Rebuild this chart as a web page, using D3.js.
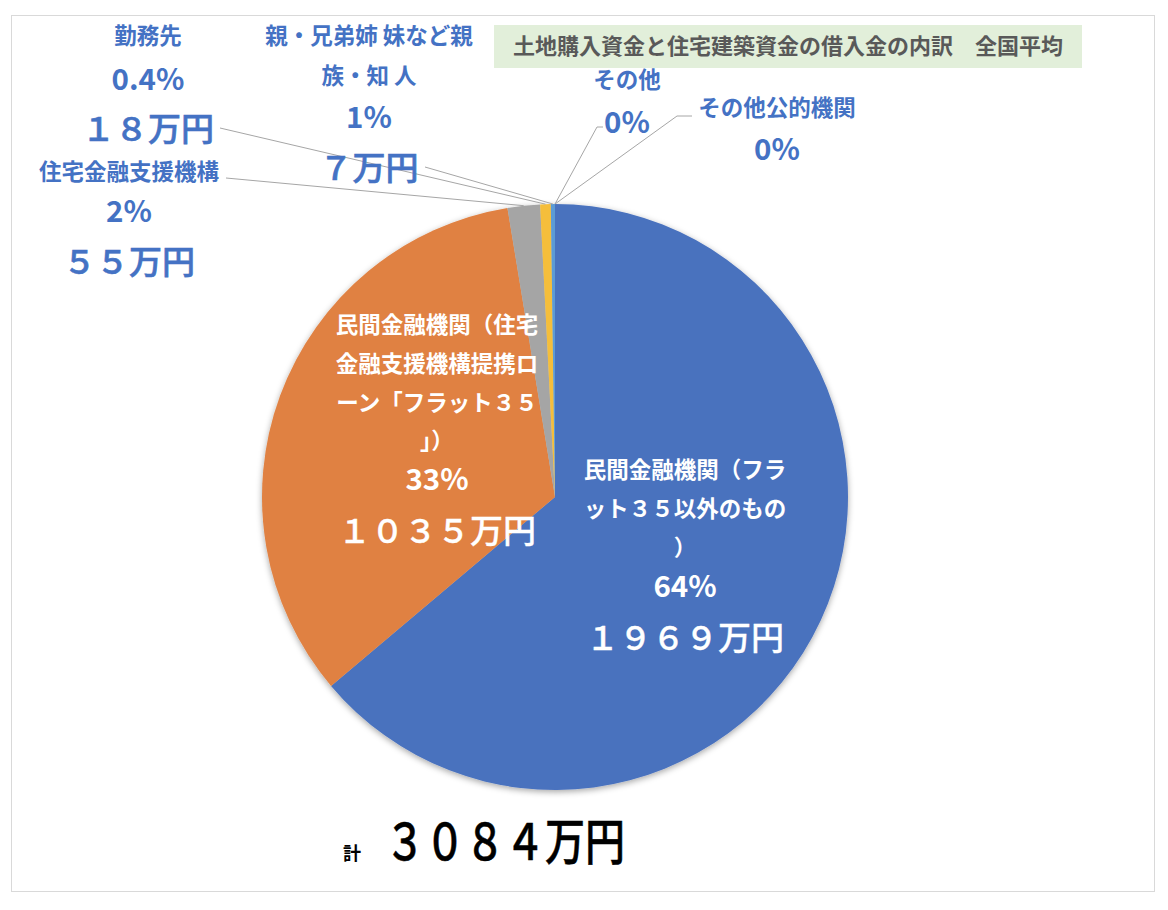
<!DOCTYPE html>
<html><head><meta charset="utf-8">
<script src="https://cdn.jsdelivr.net/npm/d3@7"></script>
<style>
html,body{margin:0;padding:0;background:#fff;}
svg{display:block;font-family:"Noto Sans CJK JP","Noto Sans",sans-serif;}
</style></head>
<body><svg id="c" width="1168" height="910"></svg>
<script>
// ---- data ----
const categories = [
  "民間金融機関（フラット３５以外のもの）",
  "民間金融機関（住宅金融支援機構提携ローン「フラット３５」）",
  "住宅金融支援機構",
  "勤務先",
  "親・兄弟姉妹など親族・知人",
  "その他公的機関",
  "その他"
];
const values = [1969, 1035, 55, 18, 7, 0, 0];
const nameLines = [
  ["民間金融機関（フラ", "ット３５以外のもの", "）"],
  ["民間金融機関（住宅", "金融支援機構提携ロ", "ーン「フラット３５", "」）"],
  ["住宅金融支援機構"],
  ["勤務先"],
  ["親・兄弟姉 妹など親", "族・知 人"],
  ["その他公的機関"],
  ["その他"]
];
const percentLabels = ["64%", "33%", "2%", "0.4%", "1%", "0%", "0%"];
const amountLabels = ["１９６９万円", "１０３５万円", "５５万円", "１８万円", "７万円", "", ""];
const titleText = "土地購入資金と住宅建築資金の借入金の内訳　全国平均";
const totalLabel = "計";
const totalAmount = "３０８４万円";

// ---- style / layout ----
const colors = ["#4A72BE", "#E08142", "#A5A5A5", "#F5BE3A", "#5B9BD5", "#70AD47", "#264478"];
const blueText = "#4472C4";
const cx = 555, cy = 497, R = 293;
const layout = [
  {x: 685, names: [478, 517, 556], pct: 597, amt: 650, inside: true},
  {x: 437, names: [333, 372, 411, 449], pct: 490, amt: 543, inside: true},
  {x: 129, names: [180], pct: 222, amt: 274, leader: [[226, 178]]},
  {x: 148, names: [44], pct: 90, amt: 141, leader: [[220, 128]]},
  {x: 369, names: [44, 84], pct: 128, amt: 180, leader: [[425, 167]]},
  {x: 777, names: [116], pct: 160, amt: null, leader: [[677, 116], [692, 116]]},
  {x: 627, names: [88], pct: 133, amt: null, leader: [[597, 127], [603, 127]]}
];

const svg = d3.select("#c");

svg.append("rect").attr("x", 11.5).attr("y", 15.5).attr("width", 1143).attr("height", 876)
  .attr("fill", "#fff").attr("stroke", "#D9D9D9").attr("stroke-width", 1);

const defs = svg.append("defs");
const f = defs.append("filter").attr("id", "sh").attr("x", "-10%").attr("y", "-10%").attr("width", "120%").attr("height", "120%");
f.append("feDropShadow").attr("dx", 0).attr("dy", 2).attr("stdDeviation", 3)
  .attr("flood-color", "#000").attr("flood-opacity", 0.35);

const tg = svg.append("g");
tg.append("rect").attr("x", 494).attr("y", 25).attr("width", 588).attr("height", 43).attr("fill", "#E2EFDA");
tg.append("text").attr("x", 788).attr("y", 54).attr("text-anchor", "middle")
  .attr("font-size", 22).attr("font-weight", "bold").attr("fill", "#595959").text(titleText);

const pie = d3.pie().sort(null).value(d => d)(values);
const arc = d3.arc().innerRadius(0).outerRadius(R);
const pg = svg.append("g").attr("transform", `translate(${cx},${cy})`);
pg.append("g").attr("filter", "url(#sh)").selectAll("path").data(pie).join("path")
  .attr("d", arc).attr("fill", (d, i) => colors[i]);

const line = d3.line();
pie.forEach((d, i) => {
  const L = layout[i];
  if (!L.leader) return;
  const a = (d.startAngle + d.endAngle) / 2;
  const p0 = [cx + R * Math.sin(a), cy - R * Math.cos(a)];
  svg.append("path").attr("d", line([p0, ...L.leader]))
    .attr("fill", "none").attr("stroke", "#A6A6A6").attr("stroke-width", 1);
});

layout.forEach((L, i) => {
  const fill = L.inside ? "#fff" : blueText;
  const g = svg.append("g").attr("fill", fill).attr("text-anchor", "middle");
  nameLines[i].forEach((t, k) => {
    g.append("text").attr("x", L.x).attr("y", L.names[k]).attr("font-size", 22.5)
      .attr("font-weight", "bold").text(t);
  });
  g.append("text").attr("x", L.x).attr("y", L.pct).attr("font-size", 29.5)
    .attr("font-weight", "bold").text(percentLabels[i]);
  if (L.amt && amountLabels[i]) {
    g.append("text").attr("x", L.x).attr("y", L.amt).attr("font-size", 33)
      .attr("font-weight", 500).attr("stroke", fill).attr("stroke-width", L.inside ? 0.3 : 0.6)
      .text(amountLabels[i]);
  }
});

svg.append("text").attr("x", 352).attr("y", 860).attr("text-anchor", "middle")
  .attr("font-size", 18).attr("font-weight", "bold").attr("fill", "#000").text(totalLabel);
svg.append("g").attr("transform", "translate(385,860) scale(0.8,1)")
  .append("text").attr("x", 0).attr("y", 0).attr("text-anchor", "start")
  .attr("font-size", 50).attr("font-weight", 500).attr("fill", "#000")
  .attr("stroke", "#000").attr("stroke-width", 0.5).text(totalAmount);
</script></body></html>
